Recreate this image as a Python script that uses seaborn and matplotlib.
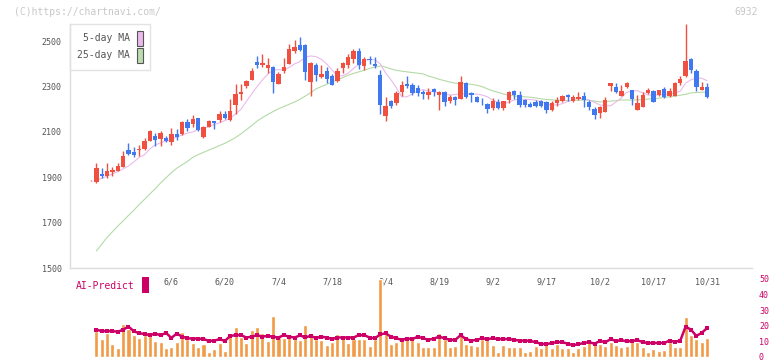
import numpy as np
import pandas as pd
import seaborn as sns
import matplotlib.pyplot as plt
from matplotlib.patches import Patch, Rectangle

# daily candles (index 0 = first visible day, 10/31 = last)
opens = [1884, 1879, 1914, 1907, 1925, 1928, 1947, 2020, 2012, 2020,
         2024, 2062, 2082, 2069, 2073, 2055, 2091, 2090, 2143, 2135,
         2160, 2078, 2122, 2148, 2153, 2179, 2153, 2219, 2267, 2303,
         2329, 2408, 2396, 2382, 2387, 2312, 2369, 2400, 2459, 2484,
         2484, 2322, 2395, 2341, 2370, 2347, 2326, 2380, 2395, 2422,
         2457, 2391, 2422, 2400, 2351, 2170, 2236, 2227, 2276, 2311,
         2307, 2293, 2278, 2263, 2289, 2263, 2278, 2238, 2256, 2246,
         2318, 2272, 2256, 2238, 2222, 2204, 2234, 2204, 2241, 2281,
         2263, 2241, 2223, 2234, 2236, 2234, 2197, 2229, 2237, 2263,
         2236, 2244, 2259, 2234, 2201, 2185, 2189, 2304, 2300, 2260,
         2300, 2285, 2197, 2212, 2273, 2281, 2263, 2290, 2260, 2259,
         2315, 2347, 2422, 2369, 2285, 2300]
highs = [1886, 1962, 1940, 1965, 1947, 1965, 2016, 2051, 2034, 2043,
         2072, 2109, 2094, 2106, 2084, 2116, 2112, 2150, 2156, 2174,
         2162, 2128, 2152, 2150, 2192, 2192, 2245, 2311, 2311, 2328,
         2382, 2434, 2444, 2425, 2390, 2366, 2426, 2488, 2506, 2520,
         2490, 2410, 2406, 2395, 2385, 2355, 2381, 2410, 2444, 2466,
         2470, 2432, 2436, 2432, 2373, 2256, 2240, 2282, 2325, 2347,
         2315, 2307, 2285, 2293, 2295, 2280, 2280, 2263, 2260, 2347,
         2322, 2278, 2258, 2249, 2227, 2249, 2245, 2236, 2282, 2285,
         2281, 2245, 2230, 2240, 2240, 2236, 2236, 2256, 2262, 2268,
         2262, 2278, 2278, 2241, 2209, 2215, 2253, 2315, 2318, 2307,
         2322, 2285, 2263, 2278, 2293, 2283, 2285, 2297, 2293, 2320,
         2347, 2576, 2424, 2377, 2322, 2315]
lows = [1882, 1876, 1898, 1898, 1906, 1926, 1945, 1998, 1988, 1994,
        2020, 2060, 2038, 2038, 2055, 2041, 2065, 2088, 2106, 2123,
        2105, 2075, 2120, 2113, 2145, 2155, 2148, 2180, 2241, 2294,
        2327, 2381, 2388, 2362, 2273, 2310, 2360, 2398, 2448, 2455,
        2330, 2259, 2326, 2338, 2318, 2305, 2320, 2360, 2381, 2403,
        2377, 2373, 2400, 2381, 2179, 2150, 2205, 2219, 2259, 2293,
        2263, 2259, 2244, 2244, 2260, 2197, 2216, 2229, 2219, 2244,
        2250, 2234, 2232, 2219, 2185, 2198, 2200, 2195, 2227, 2245,
        2209, 2209, 2209, 2209, 2210, 2185, 2192, 2215, 2234, 2238,
        2234, 2241, 2212, 2197, 2157, 2163, 2187, 2282, 2271, 2259,
        2293, 2219, 2197, 2212, 2268, 2230, 2260, 2249, 2256, 2259,
        2307, 2344, 2362, 2282, 2285, 2249]
closes = [1884, 1941, 1907, 1929, 1932, 1950, 1994, 2003, 1998, 2025,
          2059, 2104, 2065, 2097, 2062, 2091, 2079, 2143, 2119, 2157,
          2109, 2123, 2148, 2141, 2179, 2163, 2192, 2267, 2276, 2325,
          2369, 2396, 2404, 2396, 2320, 2356, 2387, 2466, 2476, 2462,
          2366, 2406, 2351, 2356, 2332, 2307, 2370, 2406, 2432, 2457,
          2395, 2421, 2418, 2391, 2219, 2214, 2214, 2272, 2307, 2302,
          2271, 2271, 2268, 2278, 2274, 2278, 2230, 2256, 2241, 2322,
          2253, 2262, 2234, 2235, 2200, 2236, 2204, 2236, 2275, 2263,
          2219, 2219, 2211, 2215, 2214, 2197, 2227, 2241, 2259, 2253,
          2253, 2253, 2241, 2208, 2175, 2209, 2241, 2315, 2275, 2281,
          2318, 2246, 2227, 2263, 2285, 2230, 2285, 2252, 2281, 2318,
          2332, 2413, 2373, 2296, 2300, 2256]

ma5 = [np.nan, 1888, 1895, 1905, 1915, 1925, 1937, 1950, 1968, 1988,
       2000, 2025, 2043, 2052, 2060, 2068, 2078, 2086, 2095, 2100,
       2110, 2116, 2123, 2133, 2140, 2150, 2160, 2180, 2200, 2235,
       2268, 2300, 2330, 2355, 2372, 2375, 2372, 2385, 2400, 2410,
       2430, 2435, 2432, 2420, 2400, 2373, 2347, 2348, 2359, 2380,
       2397, 2415, 2420, 2418, 2400, 2360, 2330, 2295, 2255, 2255,
       2268, 2282, 2287, 2280, 2278, 2272, 2268, 2263, 2265, 2268,
       2268, 2268, 2267, 2263, 2255, 2241, 2230, 2223, 2232, 2241,
       2244, 2244, 2243, 2240, 2234, 2223, 2219, 2219, 2225, 2234,
       2242, 2249, 2245, 2241, 2230, 2219, 2216, 2215, 2232, 2250,
       2275, 2280, 2282, 2272, 2263, 2263, 2263, 2265, 2268, 2272,
       2280, 2315, 2330, 2337, 2337, 2326]
ma25 = [np.nan, 1575, 1605, 1635, 1660, 1685, 1708, 1732, 1755, 1780,
        1803, 1827, 1850, 1875, 1898, 1920, 1940, 1955, 1970, 1988,
        2000, 2010, 2020, 2030, 2040, 2050, 2062, 2076, 2092, 2110,
        2128, 2148, 2163, 2177, 2190, 2202, 2212, 2222, 2232, 2244,
        2258, 2273, 2290, 2300, 2310, 2320, 2330, 2340, 2350, 2358,
        2365, 2372, 2380, 2386, 2391, 2386, 2378, 2372, 2368, 2365,
        2362, 2359, 2356, 2346, 2340, 2332, 2326, 2320, 2315, 2313,
        2312, 2310, 2306, 2300, 2290, 2281, 2275, 2267, 2262, 2259,
        2256, 2255, 2253, 2250, 2246, 2243, 2242, 2240, 2239, 2238,
        2239, 2240, 2241, 2240, 2236, 2232, 2234, 2236, 2238, 2241,
        2241, 2241, 2241, 2243, 2245, 2247, 2249, 2252, 2255, 2258,
        2262, 2266, 2272, 2274, 2275, 2275]

volume = [np.nan, 16.6, 11.6, 15.6, 8.2, 5.5, 20.9, 18.1, 13.9, 12.4,
          13.9, 13.9, 10.3, 9.7, 5.7, 6.5, 9.7, 16.0, 11.8, 9.1,
          6.5, 8.2, 3.4, 5.1, 9.1, 4.0, 14.6, 19.2, 13.1, 9.1,
          17.1, 19.2, 15.2, 10.3, 26.1, 13.1, 12.4, 13.9, 11.4, 10.8,
          20.5, 13.9, 11.8, 10.8, 7.6, 9.7, 14.6, 12.8, 8.9, 11.4,
          11.4, 11.4, 7.0, 11.8, 50.0, 16.6, 8.2, 9.7, 10.8, 12.0,
          11.4, 9.3, 6.1, 6.1, 6.1, 15.2, 11.8, 6.5, 7.2, 13.9,
          8.2, 7.6, 6.8, 11.8, 11.8, 7.6, 3.4, 7.6, 6.5, 6.5,
          6.5, 3.4, 4.0, 6.8, 5.5, 9.3, 5.5, 8.2, 5.5, 5.5,
          3.4, 5.5, 6.8, 11.4, 10.3, 8.2, 6.8, 9.3, 7.6, 6.1,
          6.8, 10.3, 9.7, 6.5, 3.0, 5.1, 4.0, 4.6, 9.7, 6.1,
          6.5, 25.5, 13.9, 11.4, 9.7, 12.0]
ai_predict = [np.nan, 17.5, 16.6, 16.6, 16.6, 16.2, 17.5, 19.5, 16.5, 15.2,
              14.8, 14.0, 15.0, 13.9, 15.5, 12.2, 15.0, 13.1, 12.0, 11.8,
              11.8, 11.5, 10.3, 10.5, 11.4, 10.3, 13.5, 14.0, 14.0, 12.5,
              13.0, 14.0, 13.1, 13.5, 13.0, 12.5, 14.0, 13.0, 12.5, 13.8,
              12.6, 13.5, 12.2, 13.0, 12.5, 11.5, 12.5, 12.5, 12.5, 12.5,
              14.0, 14.0, 12.5, 12.0, 14.5, 15.2, 13.0, 12.0, 11.0, 11.8,
              11.5, 13.0, 12.0, 11.0, 11.8, 13.0, 12.0, 11.0, 11.0, 14.0,
              11.5, 10.5, 11.0, 12.0, 11.5, 12.0, 11.5, 11.5, 11.5, 11.0,
              10.5, 10.5, 10.3, 9.5, 8.5, 8.2, 9.0, 9.5, 9.5, 8.5,
              7.6, 8.2, 9.0, 9.5, 8.5, 10.3, 9.5, 11.4, 10.3, 10.8,
              10.0, 10.3, 10.8, 9.5, 9.0, 9.0, 9.0, 9.0, 10.5, 9.8,
              10.5, 19.5, 17.5, 13.5, 15.5, 18.5]

date_labels = ['6/6', '6/20', '7/4', '7/18', '8/4', '8/19', '9/2', '9/17', '10/2', '10/17', '10/31']
date_index = [15, 25, 35, 45, 55, 65, 75, 85, 95, 105, 115]
price_ticks = [1500, 1700, 1900, 2100, 2300, 2500]
volume_ticks = [0, 10, 20, 30, 40, 50]

UP, DOWN = '#f05040', '#4078f0'
GRID = '#dcdcdc'
TEXT = '#555555'
CRIMSON = '#cc0066'

df = pd.DataFrame({'day': np.arange(len(opens)), 'open': opens, 'high': highs,
                   'low': lows, 'close': closes, 'ma5': ma5, 'ma25': ma25,
                   'volume': volume, 'ai': ai_predict})
df['color'] = np.where(df['close'] >= df['open'], UP, DOWN)

sns.set_style("white")
plt.rcParams['font.family'] = ['DejaVu Sans Mono', 'DejaVu Sans']

W, H = 772, 361
fig = plt.figure(figsize=(W / 100, H / 100), dpi=100)

def px_axes(left, top, right, bottom):
    return fig.add_axes([left / W, 1 - bottom / H, (right - left) / W, (bottom - top) / H])

# x scale: day 0 sits at px 91, one day = 5.357 px
x0, step = 91, 5.357
xlim = ((70 - x0) / step, (752 - x0) / step)

ax = px_axes(70, 24, 752, 268)
ax.set_xlim(*xlim)
ax.set_ylim(1500, 2576)

# moving averages
sns.lineplot(data=df.dropna(subset=['ma25']), x='day', y='ma25', ax=ax, color='#b4daa6', lw=0.8)
sns.lineplot(data=df.dropna(subset=['ma5']), x='day', y='ma5', ax=ax, color='#ecbaec', lw=0.8)

# candles
ax.vlines(df['day'], df['low'], df['high'], colors=df['color'], lw=1, zorder=3)
body = (df['close'] - df['open']).abs().clip(lower=1.5)
ax.bar(df['day'], body, bottom=df[['open', 'close']].min(axis=1), width=0.82,
       color=df['color'], zorder=4, linewidth=0)

for s in ['top', 'right']:
    ax.spines[s].set_visible(False)
for s in ['left', 'bottom']:
    ax.spines[s].set_color(GRID)
    ax.spines[s].set_linewidth(1)

ax.set_yticks(price_ticks)
ax.set_xticks(np.linspace(xlim[0], xlim[1], 12))
ax.set_xticklabels([])
ax.set_xticks(date_index, minor=True)
ax.set_xticklabels(date_labels, minor=True)
ax.tick_params(axis='both', which='major', direction='inout', length=5.8, width=1,
               color=GRID, labelsize=6, labelcolor=TEXT, pad=3)
ax.tick_params(axis='x', which='minor', length=0, labelsize=6, labelcolor=TEXT, pad=7)
ax.set_xlabel('')
ax.set_ylabel('')

handles = [Patch(facecolor='#ebb8eb', edgecolor='#555555', lw=0.8),
           Patch(facecolor='#bcdcb0', edgecolor='#555555', lw=0.8)]
leg = ax.legend(handles, ['5-day MA', '25-day MA'], loc='upper left', bbox_to_anchor=(0, 1),
                borderaxespad=0, markerfirst=False, handlelength=0.55, handleheight=2.0,
                handletextpad=0.8, labelspacing=0.2, borderpad=0.7, fontsize=7,
                frameon=True, fancybox=False, edgecolor='#dddddd', labelcolor=TEXT)
leg.get_frame().set_linewidth(1)

# volume + AI prediction panel
axv = px_axes(70, 279, 752, 357)
axv.patch.set_alpha(0)
sns.barplot(data=df.dropna(subset=['volume']), x='day', y='volume', native_scale=True,
            ax=axv, color='#f29a45', saturation=1, width=0.75, errorbar=None)
sns.lineplot(data=df.dropna(subset=['ai']), x='day', y='ai', ax=axv, color=CRIMSON, lw=1.8,
             marker='s', markersize=2.5, markeredgewidth=0)
axv.set_xlim(*xlim)
axv.set_ylim(0, 50)
for s in axv.spines.values():
    s.set_visible(False)
axv.set_xticks([])
axv.yaxis.tick_right()
axv.set_yticks(volume_ticks)
axv.tick_params(axis='y', length=0, labelsize=6, labelcolor=CRIMSON, pad=5)
axv.set_xlabel('')
axv.set_ylabel('')

fig.text(76 / W, 1 - 286 / H, 'AI-Predict', color=CRIMSON, fontsize=7, va='center')
fig.add_artist(Rectangle((142 / W, 1 - 293 / H), 7 / W, 16 / H, transform=fig.transFigure,
                         color=CRIMSON, lw=0))

fig.text(14 / W, 1 - 12 / H, '(C)https://chartnavi.com/', color='#c8c8c8', fontsize=7, va='center')
fig.text(758 / W, 1 - 12 / H, '6932', color='#c8c8c8', fontsize=7, va='center', ha='right')

fig.savefig('out.png', dpi=100)
